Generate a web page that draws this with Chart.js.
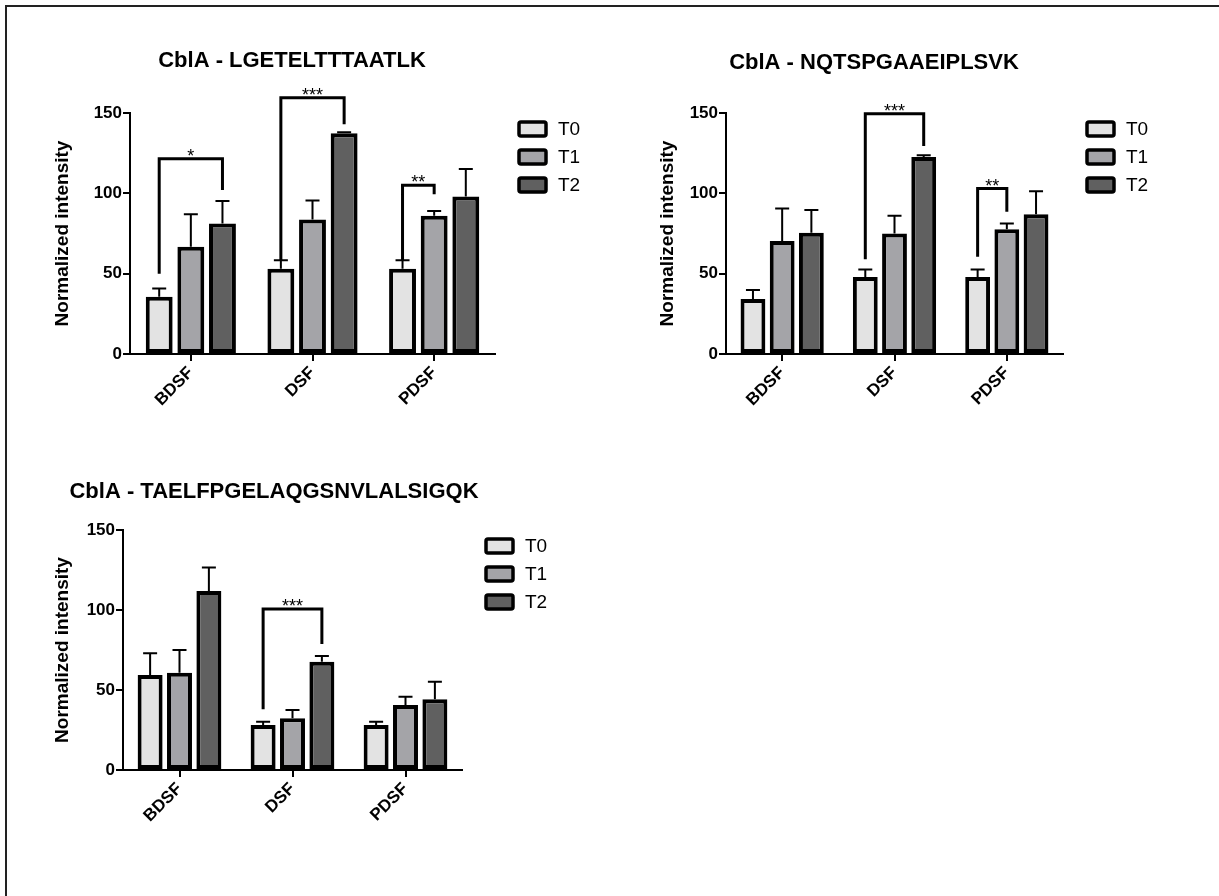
<!DOCTYPE html>
<html>
<head>
<meta charset="utf-8">
<script src="https://cdn.jsdelivr.net/npm/chart.js@4.4.0/dist/chart.umd.min.js"></script>
<style>
body { margin: 0; background: #fff; overflow: hidden; }
#frame { position: absolute; left: 5px; top: 5px; width: 1400px; height: 1000px; border-left: 2px solid #222; border-top: 2px solid #222; }
canvas { position: absolute; }
</style>
</head>
<body>
<div id="frame"></div>
<canvas id="c1" width="580" height="400" style="left:40px;top:30px"></canvas>
<canvas id="c2" width="570" height="400" style="left:640px;top:30px"></canvas>
<canvas id="c3" width="580" height="400" style="left:40px;top:450px"></canvas>
<script>
var categories = ['BDSF', 'DSF', 'PDSF']
var seriesNames = ['T0', 'T1', 'T2']
var colors = ['#e3e3e3', '#a4a4a8', '#606060']
var yTicks = [0, 50, 100, 150]

// CblA - LGETELTTTAATLK
var p1T0 = [35.6, 53, 53]
var p1T1 = [66.7, 83.7, 86]
var p1T2 = [81.2, 137.4, 98]
var p1T0err = [5.2, 5.4, 5.4]
var p1T1err = [20.3, 11.8, 3]
var p1T2err = [14.1, 0.6, 17.2]
var p1Brackets = [
  {cat: 0, from: 0, to: 2, left: 50, right: 102, top: 121.6, label: '*'},
  {cat: 1, from: 0, to: 2, left: 58.4, right: 143, top: 159.5, label: '***'},
  {cat: 2, from: 0, to: 1, left: 58.4, right: 99.4, top: 105, label: '**'}
]

// CblA - NQTSPGAAEIPLSVK
var p2T0 = [34.2, 48, 48]
var p2T1 = [70.4, 75, 77.7]
var p2T2 = [75.4, 122.6, 87]
var p2T0err = [5.6, 4.6, 4.6]
var p2T1err = [20.1, 11, 3.5]
var p2T2err = [14.3, 1.1, 14.3]
var p2Brackets = [
  {cat: 1, from: 0, to: 2, left: 59, right: 129.5, top: 149.6, label: '***'},
  {cat: 2, from: 0, to: 1, left: 60.5, right: 88.5, top: 103, label: '**'}
]

// CblA - TAELFPGELAQGSNVLALSIGQK
var p3T0 = [59.4, 28.1, 28.1]
var p3T1 = [60.8, 32.3, 40.6]
var p3T2 = [111.9, 67.7, 44.2]
var p3T0err = [13.5, 2.1, 2.1]
var p3T1err = [14.2, 5.2, 5.2]
var p3T2err = [14.6, 3.55, 11]
var p3Brackets = [
  {cat: 1, from: 0, to: 2, left: 37.9, right: 78.75, top: 100.6, label: '***'}
]

var FONT = '"Liberation Sans", Arial, sans-serif'

// error bars, significance brackets, legend and title
var extras = {
  id: 'extras',
  afterDatasetsDraw: function(chart, args, opts) {
    var ctx = chart.ctx
    var y = chart.scales.y
    ctx.save()
    ctx.strokeStyle = '#000'
    ctx.fillStyle = '#000'
    chart.data.datasets.forEach(function(ds, i) {
      chart.getDatasetMeta(i).data.forEach(function(bar, j) {
        var top = y.getPixelForValue(ds.data[j] + opts.errors[i][j])
        ctx.lineWidth = 2
        ctx.beginPath()
        ctx.moveTo(bar.x, bar.y)
        ctx.lineTo(bar.x, top)
        ctx.moveTo(bar.x - 7, top)
        ctx.lineTo(bar.x + 7, top)
        ctx.stroke()
      })
    })
    opts.brackets.forEach(function(b) {
      var x1 = chart.getDatasetMeta(b.from).data[b.cat].x
      var x2 = chart.getDatasetMeta(b.to).data[b.cat].x
      var yt = y.getPixelForValue(b.top)
      ctx.lineWidth = 3
      ctx.lineJoin = 'miter'
      ctx.beginPath()
      ctx.moveTo(x1, y.getPixelForValue(b.left))
      ctx.lineTo(x1, yt)
      ctx.lineTo(x2, yt)
      ctx.lineTo(x2, y.getPixelForValue(b.right))
      ctx.stroke()
      ctx.font = '18px ' + FONT
      ctx.textAlign = 'center'
      ctx.textBaseline = 'alphabetic'
      ctx.fillText(b.label, (x1 + x2) / 2, yt + 3)
    })
    ctx.restore()
  },
  afterDraw: function(chart, args, opts) {
    var ctx = chart.ctx
    var area = chart.chartArea
    ctx.save()
    chart.data.datasets.forEach(function(ds, i) {
      var cy = area.top + 16 + 28 * i
      ctx.fillStyle = ds.backgroundColor
      ctx.strokeStyle = '#000'
      ctx.lineWidth = 3.5
      ctx.beginPath()
      ctx.roundRect(area.right + 24, cy - 7, 27, 14, 2)
      ctx.fill()
      ctx.stroke()
      ctx.fillStyle = '#000'
      ctx.font = '19px ' + FONT
      ctx.textAlign = 'left'
      ctx.textBaseline = 'middle'
      ctx.fillText(ds.label, area.right + 63, cy + 1)
    })
    ctx.font = 'bold 22px ' + FONT
    ctx.textAlign = 'center'
    ctx.textBaseline = 'middle'
    ctx.fillText(opts.title, opts.titleX, opts.titleY)
    ctx.restore()
  }
}

function makeChart(id, values, errors, brackets, title, titleX, titleY, pad, yWidth) {
  return new Chart(document.getElementById(id), {
    type: 'bar',
    data: {
      labels: categories,
      datasets: values.map(function(v, i) {
        return {
          label: seriesNames[i],
          data: v,
          backgroundColor: colors[i],
          borderColor: '#000',
          borderWidth: 4,
          borderSkipped: false,
          categoryPercentage: 0.78,
          barPercentage: 0.85
        }
      })
    },
    options: {
      responsive: false,
      animation: false,
      devicePixelRatio: 1,
      layout: {padding: pad},
      plugins: {
        legend: {display: false},
        tooltip: {enabled: false},
        extras: {errors: errors, brackets: brackets, title: title, titleX: titleX, titleY: titleY}
      },
      scales: {
        x: {
          grid: {offset: false, drawOnChartArea: false, drawTicks: true, tickLength: 7, color: '#000', lineWidth: 2},
          border: {color: '#000', width: 2},
          ticks: {color: '#000', font: {family: FONT, size: 17, weight: 'bold'}, maxRotation: 45, minRotation: 45, padding: 2},
          afterFit: function(s) { s.height = 70 }
        },
        y: {
          min: 0,
          max: 150,
          afterBuildTicks: function(s) { s.ticks = yTicks.map(function(v) { return {value: v} }) },
          grid: {drawOnChartArea: false, drawTicks: true, tickLength: 7, color: '#000', lineWidth: 2},
          border: {color: '#000', width: 2},
          ticks: {color: '#000', font: {family: FONT, size: 17, weight: 'bold'}, padding: 1},
          title: {display: true, text: 'Normalized intensity', color: '#000', font: {family: FONT, size: 19, weight: 'bold'}, padding: {top: 3, bottom: 4}},
          afterFit: function(s) { s.width = yWidth }
        }
      }
    },
    plugins: [extras]
  })
}

makeChart('c1', [p1T0, p1T1, p1T2], [p1T0err, p1T1err, p1T2err], p1Brackets,
  'CblA - LGETELTTTAATLK', 252, 31, {left: 8, top: 83, right: 125, bottom: 6}, 82)
makeChart('c2', [p2T0, p2T1, p2T2], [p2T0err, p2T1err, p2T2err], p2Brackets,
  'CblA - NQTSPGAAEIPLSVK', 234, 33, {left: 13, top: 83, right: 147, bottom: 6}, 73)
makeChart('c3', [p3T0, p3T1, p3T2], [p3T0err, p3T1err, p3T2err], p3Brackets,
  'CblA - TAELFPGELAQGSNVLALSIGQK', 234, 42, {left: 8, top: 80, right: 158, bottom: 10}, 75)
</script>
</body>
</html>
